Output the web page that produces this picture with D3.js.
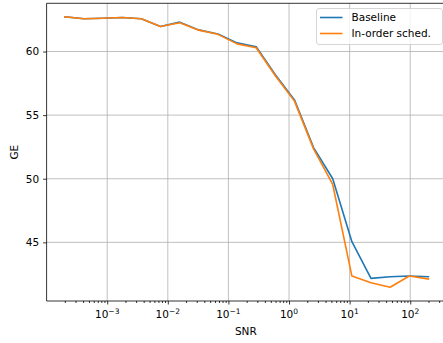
<!DOCTYPE html>
<html>
<head>
<meta charset="utf-8">
<script src="https://cdn.jsdelivr.net/npm/d3@7"></script>
<style>
  body { margin: 0; background: #fff; }
  svg { display: block; font-family: "DejaVu Sans", sans-serif; }
</style>
</head>
<body>
<script>
// size of the page
var w = 443;
var h = 343;

// SNR values (log spaced)
var snr = [2.0e-4, 4.13e-4, 8.54e-4, 1.77e-3, 3.66e-3, 7.57e-3, 0.0157, 0.0324, 0.067, 0.139,
           0.287, 0.594, 1.23, 2.54, 5.26, 10.9, 22.5, 46.6, 96.4, 199.5];
var baseline = [62.73, 62.57, 62.62, 62.67, 62.57, 61.97, 62.31, 61.7, 61.37, 60.68,
                60.37, 58.17, 56.2, 52.45, 50.0, 45.05, 42.17, 42.3, 42.35, 42.3];
var inorder  = [62.73, 62.57, 62.62, 62.67, 62.57, 61.97, 62.26, 61.68, 61.35, 60.6,
                60.3, 58.1, 56.1, 52.35, 49.55, 42.35, 41.83, 41.47, 42.35, 42.12];
var seriesNames = ["Baseline", "In-order sched."];
var colors = ["#1f77b4", "#ff7f0e"];
var xMajor = [1e-3, 1e-2, 1e-1, 1e0, 1e1, 1e2];
var xExp = ["\u22123", "\u22122", "\u22121", "0", "1", "2"];
var yTicks = [45, 50, 55, 60];

// plot area (right edge runs past the page, like the reference)
var pLeft = 46.6, pRight = 446.6, pTop = 3.3, pBottom = 301;

var svg = d3.select("body")
            .append("svg")
            .attr("width", w)
            .attr("height", h);

var x = d3.scaleLog().domain([1e-4, Math.pow(10, 2.6)]).range([pLeft, pRight]);
var y = d3.scaleLinear().domain([40.39, 63.79]).range([pBottom, pTop]);

// minor ticks 2..9 in each decade
var xMinor = [];
for (var e = -4; e <= 2; e++) {
  for (var k = 2; k <= 9; k++) {
    var v = k * Math.pow(10, e);
    if (v > x.domain()[0] && v < x.domain()[1]) xMinor.push(v);
  }
}

// grid
svg.append("g").selectAll("line")
   .data(xMajor).enter().append("line")
   .attr("x1", d => x(d)).attr("x2", d => x(d))
   .attr("y1", pTop).attr("y2", pBottom)
   .attr("stroke", "#b0b0b0").attr("stroke-width", 0.8);
svg.append("g").selectAll("line")
   .data(yTicks).enter().append("line")
   .attr("x1", pLeft).attr("x2", pRight)
   .attr("y1", d => y(d)).attr("y2", d => y(d))
   .attr("stroke", "#b0b0b0").attr("stroke-width", 0.8);

// lines
var line = d3.line().x((d, i) => x(snr[i])).y(d => y(d));
[baseline, inorder].forEach(function(s, j) {
  svg.append("path")
     .datum(s)
     .attr("d", line)
     .attr("fill", "none")
     .attr("stroke", colors[j])
     .attr("stroke-width", 1.6)
     .attr("stroke-linejoin", "round")
     .attr("stroke-linecap", "square");
});

// x axis
var gx = svg.append("g").attr("transform", "translate(0," + pBottom + ")");
gx.call(d3.axisBottom(x).tickValues(xMajor).tickSize(3.5).tickFormat(""));
gx.append("g").call(d3.axisBottom(x).tickValues(xMinor).tickSize(2).tickFormat(""));
gx.selectAll(".domain").remove();
gx.selectAll("line").attr("stroke", "#000").attr("stroke-width", 0.8);

var lbl = svg.append("g").selectAll("text")
   .data(xMajor).enter().append("text")
   .attr("x", d => x(d))
   .attr("y", 318)
   .attr("text-anchor", "middle")
   .attr("font-size", "10.5px")
   .attr("fill", "#000");
lbl.append("tspan").text("10");
lbl.append("tspan")
   .attr("dy", -4.5)
   .attr("font-size", "7.5px")
   .text((d, i) => xExp[i]);

svg.append("text")
   .attr("x", (pLeft + 443) / 2 + 1)
   .attr("y", 335)
   .attr("text-anchor", "middle")
   .attr("font-size", "10.5px")
   .text("SNR");

// y axis
var gy = svg.append("g").attr("transform", "translate(" + pLeft + ",0)");
gy.call(d3.axisLeft(y).tickValues(yTicks).tickSize(3.5).tickPadding(4).tickFormat(d3.format("d")));
gy.selectAll(".domain").remove();
gy.selectAll("line").attr("stroke", "#000").attr("stroke-width", 0.8);
gy.selectAll("text").attr("font-size", "10.5px").attr("font-family", "DejaVu Sans").attr("fill", "#000");

svg.append("text")
   .attr("transform", "translate(18," + ((pTop + pBottom) / 2) + ") rotate(-90)")
   .attr("text-anchor", "middle")
   .attr("font-size", "10.5px")
   .text("GE");

// spines
svg.append("path")
   .attr("d", "M" + pRight + "," + pTop + "H" + pLeft + "V" + pBottom + "H" + pRight)
   .attr("fill", "none")
   .attr("stroke", "#000")
   .attr("stroke-width", 0.8);

// legend
var lg = svg.append("g");
lg.append("rect")
  .attr("x", 316.5).attr("y", 8.5)
  .attr("width", 126).attr("height", 36)
  .attr("rx", 2.5)
  .attr("fill", "#fff").attr("fill-opacity", 0.8)
  .attr("stroke", "#cccccc").attr("stroke-width", 0.8);
seriesNames.forEach(function(n, j) {
  var yy = 17.5 + j * 16;
  lg.append("line")
    .attr("x1", 320).attr("x2", 342.5)
    .attr("y1", yy).attr("y2", yy)
    .attr("stroke", colors[j]).attr("stroke-width", 1.6);
  lg.append("text")
    .attr("x", 351.5).attr("y", yy + 3.8)
    .attr("font-size", "10.5px")
    .text(n);
});
</script>
</body>
</html>
